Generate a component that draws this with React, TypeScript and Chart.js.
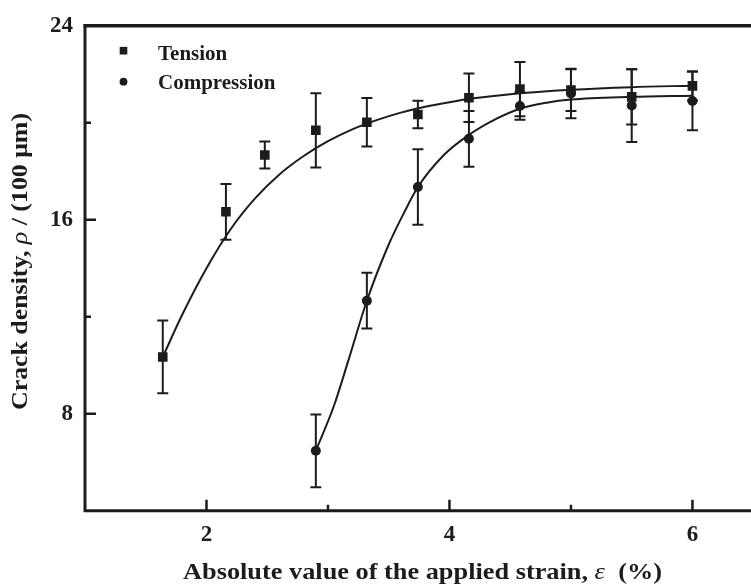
import React, { useEffect, useRef } from "react";
import { Chart, registerables } from "chart.js";

Chart.register(...registerables);

// ---- data ----
const strainTension = [1.64, 2.16, 2.48, 2.9, 3.32, 3.74, 4.16, 4.58, 5.0, 5.5, 6.0];
const densityTension = [10.34, 16.33, 18.67, 19.69, 20.02, 20.34, 21.03, 21.39, 21.35, 21.07, 21.52];
const errTension = [1.5, 1.15, 0.56, 1.53, 1.0, 0.57, 1.0, 1.12, 0.86, 1.14, 0.6];

const strainCompression = [2.9, 3.32, 3.74, 4.16, 4.58, 5.0, 5.5, 6.0];
const densityCompression = [6.47, 12.66, 17.35, 19.34, 20.69, 21.21, 20.71, 20.9];
const errCompression = [1.5, 1.15, 1.56, 1.15, 0.56, 1.02, 1.5, 1.21];

// fitted curves
const tensionFitX = [1.64, 1.8, 2.0, 2.2, 2.4, 2.6, 2.8, 3.0, 3.2, 3.4, 3.6, 3.8, 4.0, 4.2, 4.5, 5.0, 5.5, 6.0];
const tensionFitY = [10.34, 12.08, 14.0, 15.62, 16.88, 17.87, 18.63, 19.24, 19.73, 20.11, 20.42, 20.66, 20.85, 21.01, 21.18, 21.36, 21.47, 21.53];
const compressionFitX = [2.9, 3.05, 3.17, 3.32, 3.5, 3.63, 3.74, 3.95, 4.16, 4.38, 4.58, 4.8, 5.0, 5.5, 6.0];
const compressionFitY = [6.47, 8.34, 10.23, 12.66, 14.98, 16.33, 17.35, 18.65, 19.5, 20.15, 20.58, 20.83, 20.96, 21.07, 21.12];

const xMajorTicks = [2, 4, 6];
const xMinorTicks = [3, 5];
const yMajorTicks = [8, 16, 24];
const yMinorTicks = [12, 20];

const seriesNames = ["Tension", "Compression"];
const xTitleParts = ["Absolute value of the applied strain, ", "\u03b5", "  (%)"];
const yTitleParts = ["Crack density, ", "\u03c1", " / (100 \u03bcm)"];

const INK = "#1c1c1c";
const SERIF = "'Liberation Serif', 'Times New Roman', serif";

function drawParts(
  ctx: CanvasRenderingContext2D,
  parts: string[],
  cx: number,
  cy: number,
  size: number,
  targetWidth: number
) {
  const fonts = [`bold ${size}px ${SERIF}`, `italic ${size}px ${SERIF}`, `bold ${size}px ${SERIF}`];
  let total = 0;
  const widths = parts.map((p, i) => {
    ctx.font = fonts[i];
    const w = ctx.measureText(p).width;
    total += w;
    return w;
  });
  const sx = targetWidth / total;
  ctx.save();
  ctx.translate(cx, cy);
  ctx.scale(sx, 1);
  let x = -total / 2;
  parts.forEach((p, i) => {
    ctx.font = fonts[i];
    ctx.fillText(p, x, 0);
    x += widths[i];
  });
  ctx.restore();
}

const framePlugin = {
  id: "frame",
  beforeDatasetsDraw(chart: any) {
    const ctx = chart.ctx as CanvasRenderingContext2D;
    const xs = chart.scales.x;
    const ys = chart.scales.y;
    ctx.save();
    ctx.strokeStyle = INK;
    ctx.lineWidth = 2;
    const bars = (xv: number[], yv: number[], ev: number[]) => {
      xv.forEach((x, i) => {
        const px = xs.getPixelForValue(x);
        const top = ys.getPixelForValue(yv[i] + ev[i]);
        const bot = ys.getPixelForValue(yv[i] - ev[i]);
        ctx.beginPath();
        ctx.moveTo(px, top);
        ctx.lineTo(px, bot);
        ctx.moveTo(px - 5.5, top);
        ctx.lineTo(px + 5.5, top);
        ctx.moveTo(px - 5.5, bot);
        ctx.lineTo(px + 5.5, bot);
        ctx.stroke();
      });
    };
    bars(strainTension, densityTension, errTension);
    bars(strainCompression, densityCompression, errCompression);
    ctx.restore();
  },
  afterDraw(chart: any) {
    const ctx = chart.ctx as CanvasRenderingContext2D;
    const { left, right, top, bottom } = chart.chartArea;
    const xs = chart.scales.x;
    const ys = chart.scales.y;
    ctx.save();
    ctx.strokeStyle = INK;
    ctx.lineCap = "butt";
    // frame
    ctx.lineWidth = 3.5;
    ctx.beginPath();
    ctx.moveTo(left - 1.5, top);
    ctx.lineTo(right, top);
    ctx.stroke();
    ctx.lineWidth = 3;
    ctx.beginPath();
    ctx.moveTo(left, top - 1.5);
    ctx.lineTo(left, bottom + 1.5);
    ctx.moveTo(left - 1.5, bottom);
    ctx.lineTo(right, bottom);
    ctx.moveTo(right, top);
    ctx.lineTo(right, bottom);
    ctx.stroke();
    // ticks (inward)
    ctx.lineWidth = 2.5;
    ctx.beginPath();
    xMajorTicks.forEach((v) => {
      const p = xs.getPixelForValue(v);
      ctx.moveTo(p, bottom);
      ctx.lineTo(p, bottom - 11);
    });
    xMinorTicks.forEach((v) => {
      const p = xs.getPixelForValue(v);
      ctx.moveTo(p, bottom);
      ctx.lineTo(p, bottom - 6);
    });
    yMajorTicks.forEach((v) => {
      const p = ys.getPixelForValue(v);
      ctx.moveTo(left, p);
      ctx.lineTo(left + 11, p);
    });
    yMinorTicks.forEach((v) => {
      const p = ys.getPixelForValue(v);
      ctx.moveTo(left, p);
      ctx.lineTo(left + 6, p);
    });
    ctx.stroke();

    // legend
    ctx.fillStyle = INK;
    const mx = 123.5;
    ctx.fillRect(mx - 3.8, 50.7 - 3.8, 7.6, 7.6);
    ctx.beginPath();
    ctx.arc(mx, 81.7, 3.9, 0, Math.PI * 2);
    ctx.fill();
    ctx.font = `bold 21px ${SERIF}`;
    ctx.textAlign = "left";
    ctx.textBaseline = "alphabetic";
    ctx.fillText(seriesNames[0], 158, 60);
    ctx.fillText(seriesNames[1], 158, 89);

    // x title
    drawParts(ctx, xTitleParts, 422.5, 579, 24, 479);

    // y title
    ctx.save();
    ctx.translate(27, 261.5);
    ctx.rotate(-Math.PI / 2);
    drawParts(ctx, yTitleParts, 0, 0, 24, 297);
    ctx.restore();

    ctx.restore();
  },
};

export default function App() {
  const ref = useRef<HTMLCanvasElement | null>(null);
  useEffect(() => {
    if (!ref.current) return;
    const tensionPts = strainTension.map((x, i) => ({ x, y: densityTension[i] }));
    const compressionPts = strainCompression.map((x, i) => ({ x, y: densityCompression[i] }));
    const tensionFit = tensionFitX.map((x, i) => ({ x, y: tensionFitY[i] }));
    const compressionFit = compressionFitX.map((x, i) => ({ x, y: compressionFitY[i] }));
    const tickFont = { family: SERIF, size: 23, weight: "bold" as const };
    const chart = new Chart(ref.current, {
      type: "scatter",
      data: {
        datasets: [
          {
            type: "line",
            label: "Tension fit",
            data: tensionFit,
            borderColor: INK,
            borderWidth: 2,
            pointRadius: 0,
            cubicInterpolationMode: "monotone",
            fill: false,
            order: 3,
          } as any,
          {
            type: "line",
            label: "Compression fit",
            data: compressionFit,
            borderColor: INK,
            borderWidth: 2,
            pointRadius: 0,
            cubicInterpolationMode: "monotone",
            fill: false,
            order: 3,
          } as any,
          {
            label: seriesNames[0],
            data: tensionPts,
            pointStyle: "rect",
            pointRadius: 6.8,
            backgroundColor: INK,
            borderColor: INK,
            borderWidth: 0,
            order: 1,
          },
          {
            label: seriesNames[1],
            data: compressionPts,
            pointStyle: "circle",
            pointRadius: 5,
            backgroundColor: INK,
            borderColor: INK,
            borderWidth: 0,
            order: 1,
          },
        ],
      },
      options: {
        responsive: false,
        animation: false,
        devicePixelRatio: 1,
        layout: { padding: { top: 17.5, right: 1, bottom: 0, left: 0 } },
        plugins: { legend: { display: false }, tooltip: { enabled: false } },
        scales: {
          x: {
            type: "linear",
            min: 1,
            max: 6.5,
            grid: { display: false, drawTicks: false },
            border: { display: false },
            ticks: { padding: 11, font: tickFont, color: INK, maxRotation: 0 },
            afterBuildTicks: (s: any) => {
              s.ticks = xMajorTicks.map((v) => ({ value: v }));
            },
            afterFit: (s: any) => {
              s.height = 75.3;
            },
          },
          y: {
            type: "linear",
            min: 4,
            max: 24,
            grid: { display: false, drawTicks: false },
            border: { display: false },
            ticks: { padding: 12, font: tickFont, color: INK },
            afterBuildTicks: (s: any) => {
              s.ticks = yMajorTicks.map((v) => ({ value: v }));
            },
            afterFit: (s: any) => {
              s.width = 85;
            },
          },
        },
      },
      plugins: [framePlugin],
    });
    return () => chart.destroy();
  }, []);

  return (
    <div
      style={{
        position: "absolute",
        left: 0,
        top: 0,
        width: 751,
        height: 586,
        overflow: "hidden",
        background: "#fff",
      }}
    >
      <canvas ref={ref} width={760} height={586} style={{ display: "block", width: 760, height: 586 }} />
    </div>
  );
}
